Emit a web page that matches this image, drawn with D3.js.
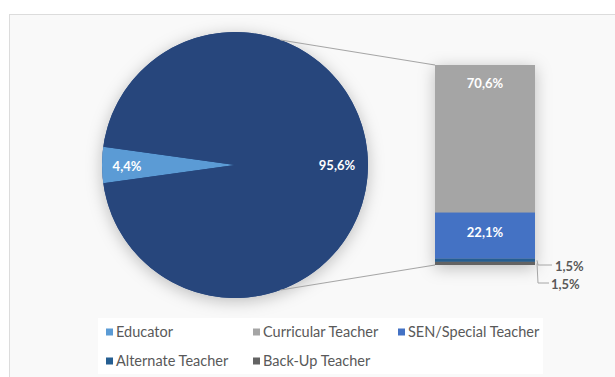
<!DOCTYPE html>
<html>
<head>
<meta charset="utf-8">
<script src="https://cdn.jsdelivr.net/npm/d3@7"></script>
<style>
  body { margin: 0; background: #fff; }
  svg { display: block; }
</style>
</head>
<body>
<div id="chart"></div>
<script>
// Data
const pieLabels = ["Educator", "Other"];
const pieValues = [4.4, 95.6];
const pieText = ["4,4%", "95,6%"];

const barCategories = ["Curricular Teacher", "SEN/Special Teacher", "Alternate Teacher", "Back-Up Teacher"];
const barValues = [70.6, 22.1, 1.5, 1.5];
const barText = ["70,6%", "22,1%", "1,5%", "1,5%"];

const legendItems = ["Educator", "Curricular Teacher", "SEN/Special Teacher", "Alternate Teacher", "Back-Up Teacher"];

const colors = {
  "Educator": "#5b9bd5",
  "Other": "#27467c",
  "Curricular Teacher": "#a5a5a5",
  "SEN/Special Teacher": "#4472c4",
  "Alternate Teacher": "#255e91",
  "Back-Up Teacher": "#636363"
};

const W = 615, H = 377;
const svg = d3.select("#chart").append("svg")
  .attr("width", W).attr("height", H)
  .style("font-family", "Lato, 'Open Sans', sans-serif");

// shadow filter
const defs = svg.append("defs");
const f = defs.append("filter").attr("id", "shadow")
  .attr("x", "-20%").attr("y", "-20%").attr("width", "140%").attr("height", "140%");
f.append("feDropShadow").attr("dx", 0).attr("dy", 3).attr("stdDeviation", 8)
  .attr("flood-color", "#000").attr("flood-opacity", 0.25);

// chart area
svg.append("rect").attr("x", 9.5).attr("y", 14.5).attr("width", 620).attr("height", 380)
  .attr("fill", "#f9f9f9").attr("stroke", "#dcdcdc");

// Pie
const cx = 235, cy = 165, r = 133;
const startA = 1.5 * Math.PI - (pieValues[0] / d3.sum(pieValues)) * Math.PI;
const pie = d3.pie().sort(null).startAngle(startA).endAngle(startA + 2 * Math.PI);
const arcs = pie(pieValues);
const arc = d3.arc().innerRadius(0).outerRadius(r);

const gPie = svg.append("g").attr("transform", `translate(${cx},${cy})`);
gPie.append("circle").attr("r", r).attr("fill", colors.Other).attr("filter", "url(#shadow)");
gPie.selectAll("path").data(arcs).enter().append("path")
  .attr("d", arc)
  .attr("fill", (d, i) => colors[pieLabels[i]]);

const labelPos = [[-108, 1], [102, 0]];
gPie.selectAll("text.lbl").data(arcs).enter().append("text")
  .attr("class", "lbl")
  .attr("x", (d, i) => labelPos[i][0])
  .attr("y", (d, i) => labelPos[i][1])
  .attr("text-anchor", "middle").attr("dy", "0.35em")
  .attr("fill", "#fff").style("font-size", "13px").style("font-weight", "bold")
  .text((d, i) => pieText[i]);

// Bar (stacked)
const barX = 435, barW = 100;
const y = d3.scaleLinear().domain([0, d3.sum(barValues)]).range([265, 65]);
let acc = 0;
const stack = barValues.map(v => 0);
for (let i = barValues.length - 1; i >= 0; i--) { stack[i] = [acc, acc + barValues[i]]; acc += barValues[i]; }

// connector lines
const conA = 20 * Math.PI / 180;
const conn = [
  [cx + r * Math.sin(conA), cy - r * Math.cos(conA), barX, y(acc)],
  [cx + r * Math.sin(conA), cy + r * Math.cos(conA), barX, y(0)]
];
svg.selectAll("line.conn").data(conn).enter().append("line")
  .attr("x1", d => d[0]).attr("y1", d => d[1]).attr("x2", d => d[2]).attr("y2", d => d[3])
  .attr("stroke", "#a6a6a6").attr("stroke-width", 1.2);

const gBar = svg.append("g");
gBar.append("rect").attr("x", barX).attr("y", y(acc)).attr("width", barW).attr("height", y(0) - y(acc))
  .attr("fill", "#a5a5a5").attr("filter", "url(#shadow)");
gBar.selectAll("rect.seg").data(barCategories).enter().append("rect")
  .attr("class", "seg")
  .attr("x", barX).attr("width", barW)
  .attr("y", (d, i) => y(stack[i][1]))
  .attr("height", (d, i) => y(stack[i][0]) - y(stack[i][1]))
  .attr("fill", d => colors[d]);

gBar.append("text").attr("x", barX + barW / 2).attr("y", 83).attr("dy", "0.35em")
  .attr("text-anchor", "middle").attr("fill", "#fff").style("font-size", "13px").style("font-weight", "bold")
  .text(barText[0]);
gBar.append("text").attr("x", barX + barW / 2).attr("y", 232).attr("dy", "0.35em")
  .attr("text-anchor", "middle").attr("fill", "#fff").style("font-size", "13px").style("font-weight", "bold")
  .text(barText[1]);

// small labels with leaders
const smallLbl = [
  { i: 2, pts: [[537, y((stack[2][0] + stack[2][1]) / 2)], [538, 265], [552, 265]], tx: 555, ty: 266 },
  { i: 3, pts: [[537, y((stack[3][0] + stack[3][1]) / 2)], [538, 283], [549, 283]], tx: 551, ty: 284 }
];
smallLbl.forEach(s => {
  svg.append("path").attr("d", d3.line()(s.pts)).attr("fill", "none")
    .attr("stroke", "#a6a6a6").attr("stroke-width", 1);
  svg.append("text").attr("x", s.tx).attr("y", s.ty).attr("dy", "0.35em")
    .attr("fill", "#595959").style("font-size", "13px").style("font-weight", "bold")
    .text(barText[s.i]);
});

// Legend
svg.append("rect").attr("x", 98).attr("y", 318).attr("width", 445).attr("height", 56).attr("fill", "#fff");
const legPos = [[106, 332], [253, 332], [398, 332], [106, 361], [253, 361]];
const gLeg = svg.append("g");
legendItems.forEach((name, i) => {
  const [lx, ly] = legPos[i];
  gLeg.append("rect").attr("x", lx).attr("y", ly - 3.5).attr("width", 7).attr("height", 7).attr("fill", colors[name]);
  gLeg.append("text").attr("x", lx + 10).attr("y", ly).attr("dy", "0.35em")
    .attr("fill", "#595959").style("font-size", "14.5px").text(name);
});
</script>
</body>
</html>
